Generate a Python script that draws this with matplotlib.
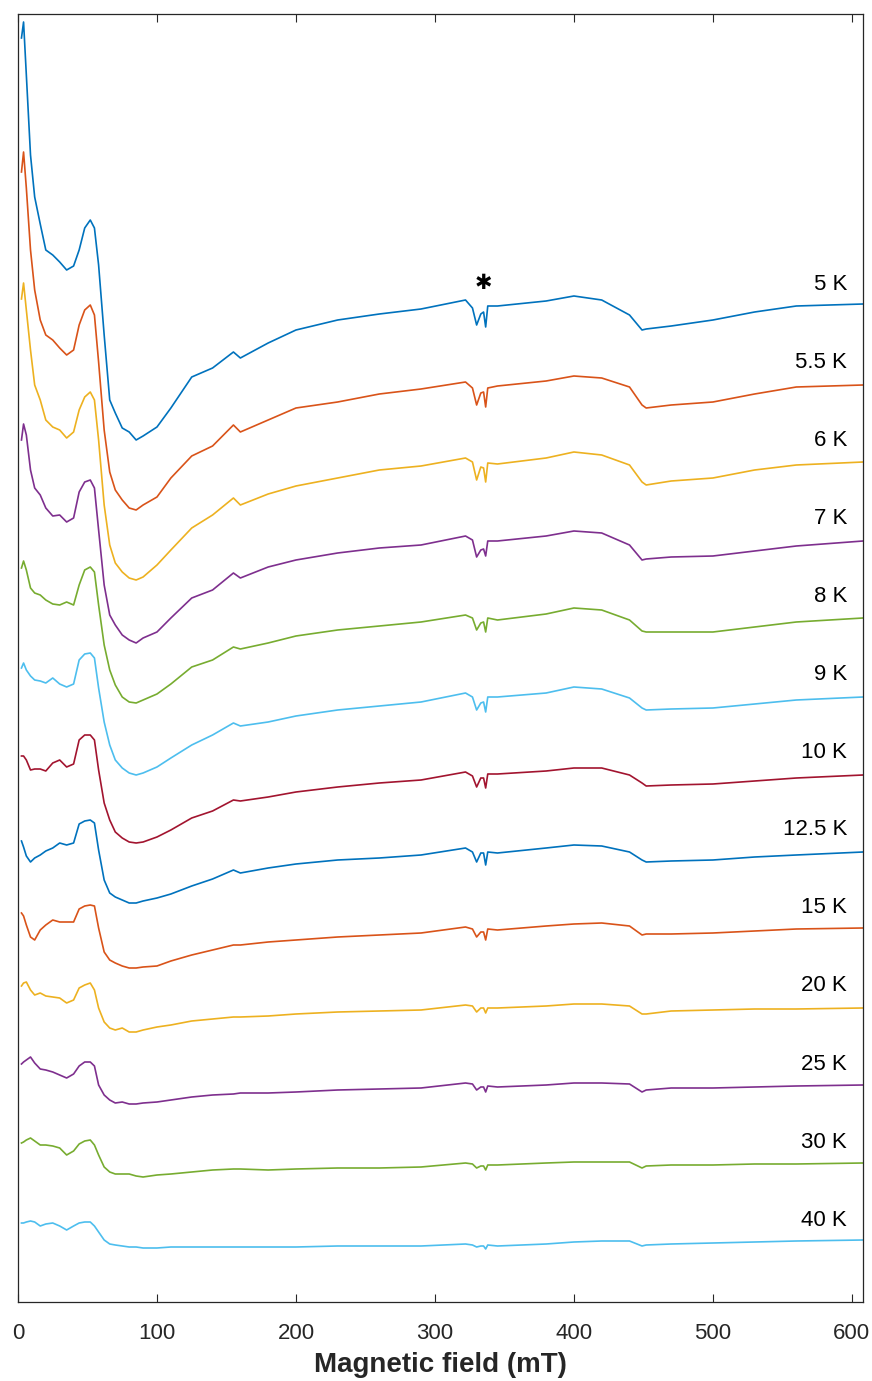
import matplotlib
matplotlib.use("Agg")
import matplotlib.pyplot as plt

# Magnetic field grid (mT) at which every spectrum is sampled
FIELD_MT = [2.5, 4, 6, 9, 12, 16, 20, 25, 30, 35, 40, 44, 48, 52, 55, 58, 62, 66,
            70, 75, 80, 85, 90, 100, 110, 125, 140, 155, 160, 180, 200, 230, 260,
            290, 322, 327, 330, 333, 335, 336.5, 338, 345, 380, 400, 420, 440, 449,
            452, 470, 500, 530, 560, 608]

# EPR signal (arb. units) for each temperature
t5 = [266, 282, 229, 149, 107, 80, 54, 49, 42, 34, 38, 54, 76, 84, 76, 39, -31, -96,
      -109, -124, -128, -136, -132, -123, -104, -73, -64, -48, -54, -39, -26, -16, -10,
      -5, 4, -4, -21, -10, -8, -23, -2, -2, 3, 8, 4, -11, -26, -25, -22, -16, -8, -2, 0]
t5_5 = [210, 230, 194, 132, 92, 62, 47, 42, 34, 27, 32, 57, 72, 77, 67, 20, -48, -90,
        -108, -118, -126, -128, -123, -115, -96, -74, -64, -43, -50, -38, -26, -20, -12,
        -7, 0, -6, -23, -11, -10, -25, -6, -4, 1, 6, 4, -5, -23, -26, -23, -20, -12, -5, -3]
t6 = [161, 177, 150, 110, 75, 60, 40, 33, 30, 22, 28, 50, 63, 68, 60, 20, -45, -85,
      -103, -112, -118, -120, -117, -105, -90, -68, -55, -38, -45, -34, -26, -18, -10,
      -6, 2, -2, -20, -7, -8, -22, -3, -4, 2, 8, 5, -5, -22, -25, -21, -18, -10, -5, -2]
t7 = [98, 114, 103, 68, 50, 43, 30, 22, 23, 16, 20, 46, 56, 58, 50, 8, -47, -77,
      -87, -97, -102, -105, -100, -94, -80, -60, -52, -35, -40, -29, -22, -15, -10,
      -7, 2, -2, -19, -12, -11, -18, -3, -3, 2, 7, 5, -7, -22, -21, -19, -18, -13, -8, -3]
t8 = [48, 55, 46, 28, 23, 21, 16, 12, 11, 14, 11, 31, 46, 49, 44, 11, -29, -54,
      -69, -81, -86, -87, -84, -78, -68, -51, -44, -31, -33, -27, -20, -14, -10,
      -6, 1, -2, -14, -7, -6, -16, -2, -4, 2, 8, 6, -4, -15, -16, -16, -16, -11, -6, -2]
t9 = [26, 31, 24, 18, 14, 13, 11, 16, 10, 7, 10, 34, 40, 41, 36, 6, -28, -51,
      -66, -74, -79, -81, -79, -73, -64, -51, -41, -29, -32, -28, -22, -16, -12,
      -8, 1, -3, -16, -9, -8, -18, -3, -3, 1, 7, 5, -4, -14, -16, -15, -14, -10, -6, -3]
t10 = [16, 16, 12, 2, 3, 3, 1, 9, 12, 5, 8, 32, 37, 37, 32, 2, -31, -48,
       -60, -66, -70, -71, -70, -65, -58, -46, -39, -28, -29, -25, -20, -15, -11,
       -8, 0, -4, -15, -6, -6, -16, -2, -2, 1, 4, 4, -3, -11, -14, -13, -12, -9, -6, -3]
t12_5 = [9, 3, -6, -12, -8, -5, -1, 2, 7, 5, 7, 26, 29, 30, 27, 0, -30, -43,
         -47, -50, -53, -53, -51, -48, -44, -36, -29, -20, -23, -18, -14, -10, -8,
         -5, 2, -2, -12, -3, -3, -15, -2, -3, 2, 5, 4, -2, -10, -12, -11, -10, -7, -5, -2]
t15 = [15, 12, 3, -9, -12, -2, 3, 8, 6, 6, 6, 19, 22, 23, 22, 0, -24, -32,
       -35, -38, -40, -40, -39, -38, -33, -27, -22, -17, -17, -14, -12, -9, -7,
       -5, 1, -1, -9, -4, -4, -12, -1, -2, 2, 4, 5, 2, -7, -6, -6, -5, -3, -1, 0]
t20 = [20, 23, 24, 16, 11, 13, 10, 9, 8, 3, 6, 18, 21, 23, 16, -2, -16, -22,
       -24, -22, -26, -26, -24, -21, -19, -15, -13, -11, -11, -10, -8, -6, -5,
       -4, 1, 0, -6, -2, -2, -7, -2, -2, 0, 2, 2, 0, -8, -8, -5, -4, -3, -3, -2]
t25 = [20, 22, 24, 27, 21, 15, 14, 12, 9, 6, 10, 18, 22, 22, 18, -1, -11, -16,
       -19, -18, -20, -20, -19, -18, -16, -13, -11, -10, -9, -9, -8, -6, -5,
       -4, 1, 0, -6, -3, -3, -8, -2, -3, -1, 1, 1, 0, -8, -6, -4, -4, -3, -2, -1]
t30 = [19, 20, 22, 24, 21, 17, 17, 16, 14, 7, 11, 18, 21, 22, 17, 7, -5, -10,
       -12, -12, -12, -14, -15, -13, -12, -10, -8, -7, -7, -8, -7, -6, -6,
       -5, -1, -2, -6, -4, -4, -8, -3, -3, -1, 0, 0, 0, -6, -4, -3, -3, -2, -2, -1]
t40 = [17, 17, 18, 19, 18, 14, 16, 17, 14, 10, 14, 17, 18, 18, 14, 8, 0, -4,
       -5, -6, -7, -7, -8, -8, -7, -7, -7, -7, -7, -7, -7, -6, -6,
       -6, -4, -5, -7, -6, -6, -9, -5, -6, -4, -2, -1, -1, -6, -5, -4, -3, -2, -1, 0]

TEMPERATURE_LABELS = ["5 K", "5.5 K", "6 K", "7 K", "8 K", "9 K", "10 K",
                      "12.5 K", "15 K", "20 K", "25 K", "30 K", "40 K"]
SPECTRA = [t5, t5_5, t6, t7, t8, t9, t10, t12_5, t15, t20, t25, t30, t40]

# MATLAB default line colour order
COLORS = ["#0072BD", "#D95319", "#EDB120", "#7E2F8E", "#77AC30", "#4DBEEE", "#A2142F"]

STACK_STEP = 78      # vertical spacing between stacked spectra
LABEL_RISE = 20      # temperature label height above each trace's end

W, H = 872, 1381
fig = plt.figure(figsize=(W / 100, H / 100), dpi=100)
left, right, top, bottom = 18, 863, 14, 1302
ax = fig.add_axes([left / W, 1 - bottom / H, (right - left) / W, (bottom - top) / H])

for i, (sig, lab) in enumerate(zip(SPECTRA, TEMPERATURE_LABELS)):
    offset = -STACK_STEP * i
    ax.plot(FIELD_MT, [v + offset for v in sig], color=COLORS[i % len(COLORS)],
            lw=1.2, solid_joinstyle="round")
    ax.text(596.5, offset + LABEL_RISE, lab, ha="right", va="center",
            fontsize=16, family="Liberation Sans", color="black")

# marker for the sharp feature near g = 2
ax.text(335, 21, "\u2731", ha="center", va="center", fontsize=15,
        family="DejaVu Sans", color="black")

ax.set_xlim(0, 608)
ax.set_ylim(-998, 290)
ax.set_yticks([])
ax.set_xticks([0, 100, 200, 300, 400, 500, 600])
ax.tick_params(axis="x", direction="in", top=True, bottom=True, length=6,
               width=0.8, colors="#262626", labelsize=16, pad=15)
for lbl in ax.get_xticklabels():
    lbl.set_family("Liberation Sans")
for s in ax.spines.values():
    s.set_color("#262626")
    s.set_linewidth(0.9)
ax.set_xlabel("Magnetic field (mT)", fontsize=20, fontweight="bold",
              family="Liberation Sans", color="#262626", labelpad=6)

fig.savefig("out.png", dpi=100)
